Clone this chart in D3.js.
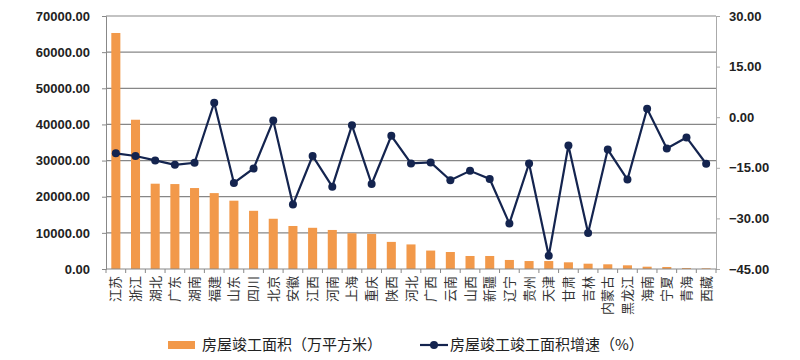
<!DOCTYPE html>
<html><head><meta charset="utf-8">
<script src="https://cdn.jsdelivr.net/npm/d3@7"></script>
<style>body{margin:0;background:#fff}</style>
</head><body>
<svg id="c" width="800" height="360"></svg>
<script>
const categories = ["江苏","浙江","湖北","广东","湖南","福建","山东","四川","北京","安徽","江西","河南","上海","重庆","陕西","河北","广西","云南","山西","新疆","辽宁","贵州","天津","甘肃","吉林","内蒙古","黑龙江","海南","宁夏","青海","西藏"];
const areaValues = [65300,41300,23600,23500,22400,21000,18900,16100,13900,11900,11400,10800,9900,9700,7500,6800,5100,4700,3600,3600,2500,2200,2200,1850,1470,1300,1020,640,560,280,200];
const growthValues = [-10.7,-11.5,-12.8,-14.1,-13.5,4.3,-19.5,-15.2,-1.0,-25.9,-11.5,-20.6,-2.4,-19.8,-5.5,-13.7,-13.4,-18.7,-15.9,-18.3,-31.5,-13.7,-41.1,-8.4,-34.3,-9.6,-18.5,2.5,-9.3,-6.0,-13.8];
const leftTicks = [0,10000,20000,30000,40000,50000,60000,70000];
const rightTicks = [-45,-30,-15,0,15,30];
const seriesNames = ["房屋竣工面积（万平方米）","房屋竣工竣工面积增速（%）"];

const svg = d3.select("#c");
const L = 106, R = 716, T = 16, B = 269;
const x = d3.scaleBand().domain(categories).range([L, R]).paddingInner(0.54).paddingOuter(0.27);
const xc = d3.scaleBand().domain(categories).range([L, R]);
const yL = d3.scaleLinear().domain([0,70000]).range([B, T]);
const yR = d3.scaleLinear().domain([-45,30]).range([B, T]);

// grid
svg.append("g").selectAll("line").data(leftTicks.slice(1)).join("line")
  .attr("x1", L).attr("x2", R).attr("y1", d=>yL(d)).attr("y2", d=>yL(d))
  .attr("stroke", "#878787").attr("stroke-width", 1.2);

// bars
svg.append("g").selectAll("rect").data(areaValues).join("rect")
  .attr("x", (d,i)=>x(categories[i])).attr("width", x.bandwidth())
  .attr("y", d=>yL(d)).attr("height", d=>B - yL(d))
  .attr("fill", "#f2994a");

// left axis
const gl = svg.append("g").attr("transform", `translate(${L},0)`)
  .call(d3.axisLeft(yL).tickValues(leftTicks).tickFormat(d3.format(".2f")).tickSize(4).tickPadding(12));
gl.select(".domain").attr("stroke", "#888");
gl.selectAll(".tick line").attr("stroke", "#888");
gl.selectAll("text").attr("font-family", "Liberation Sans, Arial, sans-serif").attr("font-size", 13).attr("font-weight", "bold").attr("fill", "#222");

// right axis
const gr = svg.append("g").attr("transform", `translate(${R},0)`)
  .call(d3.axisRight(yR).tickValues(rightTicks).tickFormat(d3.format(".2f")).tickSize(4).tickPadding(9));
gr.select(".domain").attr("stroke", "#aaa");
gr.selectAll(".tick line").attr("stroke", "#aaa");
gr.selectAll("text").attr("font-family", "Liberation Sans, Arial, sans-serif").attr("font-size", 13).attr("font-weight", "bold").attr("fill", "#222");

// x axis
const gx = svg.append("g").attr("transform", `translate(0,${B})`);
gx.append("line").attr("x1", L).attr("x2", R).attr("stroke", "#888");
gx.selectAll("line.t").data(d3.range(categories.length + 1)).join("line").attr("class","t")
  .attr("x1", i=>L + i*xc.step()).attr("x2", i=>L + i*xc.step()).attr("y1", 0).attr("y2", 4).attr("stroke", "#888");
gx.selectAll("text").data(categories).join("text")
  .attr("transform", d=>`translate(${xc(d)+xc.bandwidth()/2+4.5},7) rotate(-90)`)
  .attr("text-anchor", "end")
  .attr("font-family", "Noto Sans CJK SC, sans-serif").attr("font-size", 13).attr("fill", "#333")
  .text(d=>d);

// line
const line = d3.line().x((d,i)=>xc(categories[i]) + xc.bandwidth()/2).y(d=>yR(d));
svg.append("path").datum(growthValues).attr("d", line).attr("fill","none").attr("stroke","#14244f").attr("stroke-width",2.2);
svg.append("g").selectAll("circle").data(growthValues).join("circle")
  .attr("cx", (d,i)=>xc(categories[i]) + xc.bandwidth()/2).attr("cy", d=>yR(d)).attr("r", 4)
  .attr("fill", "#14244f");

// legend
const lg = svg.append("g").attr("font-family", "Noto Sans CJK SC, sans-serif").attr("font-size", 15).attr("fill", "#222");
lg.append("rect").attr("x", 168).attr("y", 341).attr("width", 27).attr("height", 8).attr("fill", "#f2994a");
lg.append("text").attr("x", 202).attr("y", 350).text(seriesNames[0]);
lg.append("line").attr("x1", 420).attr("x2", 448).attr("y1", 345).attr("y2", 345).attr("stroke", "#14244f").attr("stroke-width", 2.2);
lg.append("circle").attr("cx", 434).attr("cy", 345).attr("r", 4).attr("fill", "#14244f");
lg.append("text").attr("x", 450).attr("y", 350).text(seriesNames[1]);
</script>
</body></html>
